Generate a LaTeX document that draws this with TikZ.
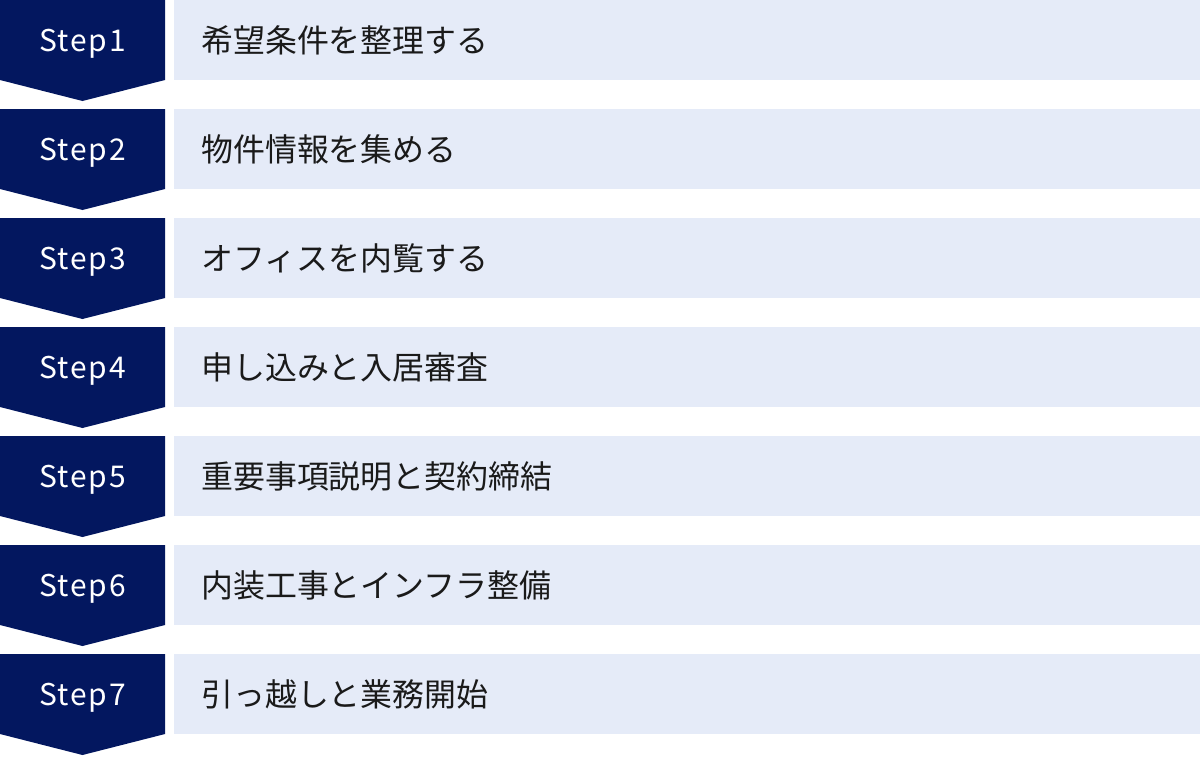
\documentclass[tikz,border=0pt]{standalone}
\usepackage{fontspec}
\setmainfont{Noto Sans CJK JP}
\newfontfamily\stepfont[LetterSpace=6]{Noto Sans CJK JP}
\definecolor{navy}{HTML}{03175F}
\definecolor{paleblue}{HTML}{E5EBF8}
\definecolor{ink}{HTML}{1A1A1A}

\begin{document}
\begin{tikzpicture}[x=0.025cm,y=-0.025cm,
    steplabel/.style={text=white, font=\stepfont\fontsize{21.3}{21.3}\selectfont, inner sep=0pt},
    stepbody/.style={anchor=west, text=ink, font=\fontsize{22.7}{22.7}\selectfont, inner sep=0pt}]
    \useasboundingbox (0,0) rectangle (1200,756);

    % Step1
    \fill[navy] (0,0) -- (165,0) -- (165,80) -- (82.5,101) -- (0,80) -- cycle;
    \fill[paleblue] (174,0) rectangle (1200,80);
    \node[steplabel] (s1) at (82.5,44) {Step1};
    \node[stepbody] (t1) at (201,40) {希望条件を整理する};

    % Step2
    \fill[navy] (0,109) -- (165,109) -- (165,189) -- (82.5,210) -- (0,189) -- cycle;
    \fill[paleblue] (174,109) rectangle (1200,189);
    \node[steplabel] (s2) at (82.5,153) {Step2};
    \node[stepbody] (t2) at (201,149) {物件情報を集める};

    % Step3
    \fill[navy] (0,218) -- (165,218) -- (165,298) -- (82.5,319) -- (0,298) -- cycle;
    \fill[paleblue] (174,218) rectangle (1200,298);
    \node[steplabel] (s3) at (82.5,262) {Step3};
    \node[stepbody] (t3) at (201,258) {オフィスを内覧する};

    % Step4
    \fill[navy] (0,327) -- (165,327) -- (165,407) -- (82.5,428) -- (0,407) -- cycle;
    \fill[paleblue] (174,327) rectangle (1200,407);
    \node[steplabel] (s4) at (82.5,371) {Step4};
    \node[stepbody] (t4) at (201,367) {申し込みと入居審査};

    % Step5
    \fill[navy] (0,436) -- (165,436) -- (165,516) -- (82.5,537) -- (0,516) -- cycle;
    \fill[paleblue] (174,436) rectangle (1200,516);
    \node[steplabel] (s5) at (82.5,480) {Step5};
    \node[stepbody] (t5) at (201,476) {重要事項説明と契約締結};

    % Step6
    \fill[navy] (0,545) -- (165,545) -- (165,625) -- (82.5,646) -- (0,625) -- cycle;
    \fill[paleblue] (174,545) rectangle (1200,625);
    \node[steplabel] (s6) at (82.5,589) {Step6};
    \node[stepbody] (t6) at (201,585) {内装工事とインフラ整備};

    % Step7
    \fill[navy] (0,654) -- (165,654) -- (165,734) -- (82.5,755) -- (0,734) -- cycle;
    \fill[paleblue] (174,654) rectangle (1200,734);
    \node[steplabel] (s7) at (82.5,698) {Step7};
    \node[stepbody] (t7) at (201,694) {引っ越しと業務開始};
\end{tikzpicture}
\end{document}
